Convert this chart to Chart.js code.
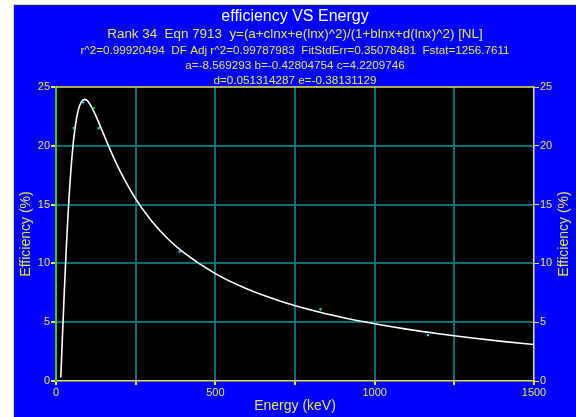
<!DOCTYPE html>
<html>
<head>
<meta charset="utf-8">
<script src="https://cdn.jsdelivr.net/npm/chart.js@4/dist/chart.umd.min.js"></script>
<style>
html,body{margin:0;padding:0;background:#fff;}
#wrap{width:576px;height:417px;position:relative;}
</style>
</head>
<body>
<div id="wrap"><canvas id="c" width="576" height="417"></canvas></div>
<script>
// ---- data ----
const titleLines = [
  "efficiency VS Energy",
  "Rank 34  Eqn 7913  y=(a+clnx+e(lnx)^2)/(1+blnx+d(lnx)^2) [NL]",
  "r^2=0.99920494  DF Adj r^2=0.99787983  FitStdErr=0.35078481  Fstat=1256.7611",
  "a=-8.569293 b=-0.42804754 c=4.2209746",
  "d=0.051314287 e=-0.38131129"
];
const xAxisTitle = "Energy (keV)";
const yAxisTitle = "Efficiency (%)";

// measured points
const pointEnergy = [56, 85, 118, 134, 388, 830, 1167];
const pointEff    = [21.5, 23.7, 23.2, 21.5, 11.0, 6.1, 3.9];
const highlightedIndex = 2;

// fitted curve
const curveEnergy = [15,16,18,20,25,30,35,40,50,60,70,80,90,100,120,150,175,200,250,300,350,400,500,600,700,800,900,1000,1100,1200,1300,1400,1500];
const curveEff    = [0.30,0.98,2.33,3.67,6.93,9.99,12.76,15.20,19.03,21.56,23.05,23.76,23.95,23.78,22.85,20.95,19.36,17.91,15.49,13.61,12.12,10.93,9.13,7.82,6.83,6.04,5.40,4.87,4.41,4.02,3.68,3.37,3.10];

// axis ranges / ticks
const xMin = 0, xMax = 1500, xStep = 250, xLabelStep = 500;
const yMin = 0, yMax = 25, yStep = 5;

// ---- styling ----
const FONT = "'Liberation Sans', Arial, sans-serif";
const YELLOW = '#e6e64a';
const TEAL = '#007474';
const BLUE = '#0000ff';
const CYAN = '#00e6e6';
const GREEN = '#00dd00';

const curveData = curveEnergy.map((x, i) => ({x, y: curveEff[i]}));
const pointData = pointEnergy.map((x, i) => ({x, y: pointEff[i]}));

const bgPlugin = {
  id: 'bg',
  beforeDraw(chart) {
    const ctx = chart.ctx, a = chart.chartArea;
    ctx.save();
    ctx.fillStyle = '#ffffff';
    ctx.fillRect(0, 0, 576, 417);
    ctx.fillStyle = BLUE;
    ctx.fillRect(13, 4, 563, 413);
    ctx.strokeStyle = YELLOW;
    ctx.lineWidth = 1;
    ctx.beginPath();
    ctx.moveTo(13.5, 417); ctx.lineTo(13.5, 4.5); ctx.lineTo(576, 4.5);
    ctx.stroke();
    ctx.fillStyle = '#000000';
    ctx.fillRect(a.left, a.top, a.right - a.left, a.bottom - a.top);
    ctx.restore();
  },
  afterDraw(chart) {
    const ctx = chart.ctx, a = chart.chartArea;
    ctx.save();
    // top border
    ctx.strokeStyle = YELLOW;
    ctx.lineWidth = 1.5;
    ctx.beginPath();
    ctx.moveTo(a.left, a.top); ctx.lineTo(a.right, a.top);
    ctx.stroke();
    const cx = (a.left + a.right) / 2;
    ctx.textAlign = 'center';
    ctx.textBaseline = 'middle';
    ctx.fillStyle = '#ffffff';
    ctx.font = '16px ' + FONT;
    ctx.fillText(titleLines[0], cx, 17);
    ctx.fillStyle = YELLOW;
    ctx.font = '13.4px ' + FONT;
    ctx.fillText(titleLines[1], cx, 34);
    ctx.font = '11.7px ' + FONT;
    ctx.fillText(titleLines[2], cx, 51);
    ctx.fillText(titleLines[3], cx, 66);
    ctx.fillText(titleLines[4], cx, 81);
    // x title
    ctx.font = '14px ' + FONT;
    ctx.fillText(xAxisTitle, cx, 406);
    // y titles (both read bottom-to-top)
    const cy = (a.top + a.bottom) / 2;
    [26, 564].forEach(x => {
      ctx.save();
      ctx.translate(x, cy);
      ctx.rotate(-Math.PI / 2);
      ctx.fillText(yAxisTitle, 0, 0);
      ctx.restore();
    });
    ctx.restore();
  }
};

const edgeTransparent = (lo, hi) => (c) => {
  const v = c.tick ? c.tick.value : null;
  return (v === lo || v === hi) ? 'rgba(0,0,0,0)' : TEAL;
};

new Chart(document.getElementById('c'), {
  type: 'scatter',
  data: {
    datasets: [
      {
        label: 'fit',
        type: 'line',
        data: curveData,
        borderColor: '#ffffff',
        borderWidth: 1.6,
        pointRadius: 0,
        fill: false,
        cubicInterpolationMode: 'monotone',
        order: 2
      },
      {
        label: 'data',
        data: pointData,
        pointStyle: 'rect',
        pointRadius: 1.6,
        borderWidth: 0,
        pointBackgroundColor: (c) => c.dataIndex === highlightedIndex ? GREEN : CYAN,
        pointBorderColor: (c) => c.dataIndex === highlightedIndex ? GREEN : CYAN,
        order: 1
      }
    ]
  },
  options: {
    responsive: false,
    animation: false,
    devicePixelRatio: 1,
    layout: { padding: { top: 87, left: 0, right: 0, bottom: 0 } },
    plugins: { legend: { display: false }, tooltip: { enabled: false }, title: { display: false } },
    scales: {
      x: {
        type: 'linear', position: 'bottom', min: xMin, max: xMax,
        afterFit(s) { s.height = 36; },
        afterBuildTicks(s) {
          const t = [];
          for (let v = xMin; v <= xMax; v += xStep) t.push({value: v});
          s.ticks = t;
        },
        ticks: {
          color: YELLOW, font: { family: FONT, size: 11 }, padding: 1,
          maxRotation: 0, autoSkip: false,
          callback: (v) => (v % xLabelStep === 0 ? String(v) : '')
        },
        grid: { color: edgeTransparent(xMin, xMax), lineWidth: 2, tickColor: YELLOW, tickLength: 4 },
        border: { color: YELLOW, width: 1.5 }
      },
      y: {
        type: 'linear', position: 'left', min: yMin, max: yMax,
        afterFit(s) { s.width = 56; },
        ticks: { stepSize: yStep, color: YELLOW, font: { family: FONT, size: 11 }, padding: 1 },
        grid: { color: edgeTransparent(yMin, yMax), lineWidth: 2, tickColor: YELLOW, tickLength: 5 },
        border: { color: '#33cc33', width: 2 }
      },
      y2: {
        type: 'linear', position: 'right', min: yMin, max: yMax,
        afterFit(s) { s.width = 42; },
        ticks: { stepSize: yStep, color: YELLOW, font: { family: FONT, size: 11 }, padding: 1 },
        grid: { drawOnChartArea: false, tickColor: YELLOW, tickLength: 5, color: YELLOW },
        border: { color: YELLOW, width: 1.5 }
      }
    }
  },
  plugins: [bgPlugin]
});
</script>
</body>
</html>
